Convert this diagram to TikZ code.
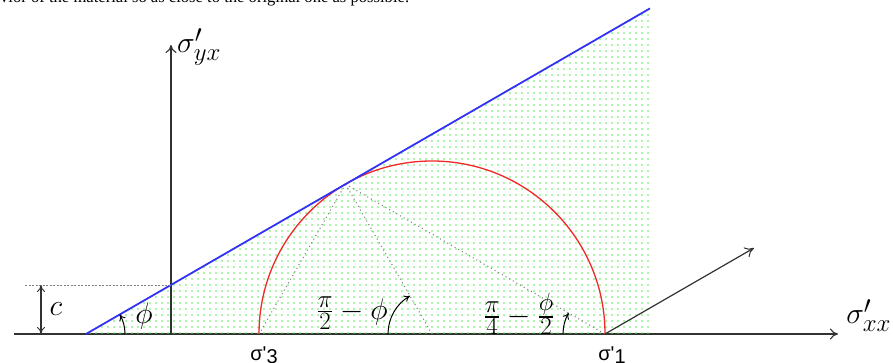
\documentclass[tikz,border=0pt]{standalone}
\usepackage{amsmath}
\usepackage{fontspec}
\newfontfamily\serifTNR{Liberation Serif}
\newfontfamily\sansArial{Liberation Sans}
\usetikzlibrary{arrows.meta,patterns.meta,calc}
\definecolor{axisgray}{RGB}{50,50,50}
\definecolor{dotgreen}{RGB}{90,235,90}
\definecolor{failblue}{RGB}{50,50,245}
\definecolor{mohrred}{RGB}{240,40,40}
\begin{document}
\begin{tikzpicture}[x=1pt,y=1pt,
  axisline/.style={line width=1.6pt, draw=axisgray, -{To[length=8pt,width=11pt,line width=1.1pt]}},
  guide/.style={draw=gray, line width=1.1pt, dash pattern=on 1pt off 3.2pt},
  cline/.style={draw=gray, line width=0.6pt, dash pattern=on 2pt off 1.5pt},
  anglearrow/.style={draw=black, line width=1pt, -{To[length=6pt,width=7pt,line width=0.9pt]}},
  mathlabel/.style={inner sep=0pt, font=\Huge, scale=1.2, transform shape},
  sigmalabel/.style={inner sep=0pt, font=\sansArial\fontsize{20}{24}\selectfont, anchor=base},
  shade/.style={pattern={Dots[distance=6pt,radius=0.9pt]}, pattern color=dotgreen}
]
\useasboundingbox (0,0) rectangle (893,363);

% key points
\coordinate (A) at (86,29);
\coordinate (O) at (171,29);
\coordinate (S3) at (259,29);
\coordinate (C) at (432,29);
\coordinate (S1) at (605,29);
\coordinate (T) at ($(C)+(120:173)$);
\coordinate (Ctop) at (171,78.07);
\coordinate (Btop) at (650,354.6);
\coordinate (Bbot) at (650,29);
\coordinate (Xstart) at (14,29);
\coordinate (Xend) at (838,29);
\coordinate (Yend) at (171,318);
\coordinate (Dstart) at (25,78.07);
\coordinate (CarrowTop) at (41,78.07);
\coordinate (CarrowBot) at (41,29);
\coordinate (Dir) at ($(S1)+(30:172)$);

% top text (cut off by the page edge)
\node[anchor=base west, inner sep=0pt, font=\serifTNR\fontsize{16.6}{20}\selectfont] (toptext) at (0,360.5)
  {vior of the material so as close to the original one as possible.};

% axes
\draw[axisline] (Xstart) -- (Xend);
\draw[axisline, line width=1.3pt] (O) -- (Yend);

% shaded region
\fill[shade] (A) -- (Btop) -- (Bbot) -- cycle;

% guide lines from tangent point
\draw[guide] (T) -- (S3);
\draw[guide] (T) -- (C);
\draw[guide] (T) -- (S1);

% Mohr circle
\draw[mohrred, line width=1.3pt] (S1) arc[start angle=0, end angle=180, radius=173];

% failure envelope
\draw[failblue, line width=1.8pt] (A) -- (Btop);

% cohesion
\draw[cline] (Dstart) -- (Ctop);
\draw[line width=1.1pt, draw=axisgray, {To[length=7pt,width=8pt,line width=0.9pt]}-{To[length=7pt,width=8pt,line width=0.9pt]}] (CarrowTop) -- (CarrowBot);

% direction arrow
\draw[line width=1.2pt, draw=axisgray, -{To[length=9pt,width=11pt,line width=1pt]}] (S1) -- (Dir);

% angle arcs
\draw[anglearrow] ($(A)+(39,0)$) arc[start angle=0, end angle=30, radius=39];
\draw[anglearrow] ($(C)+(-44,0)$) arc[start angle=180, end angle=120, radius=44];
\draw[anglearrow] ($(S1)+(-42,0)$) arc[start angle=180, end angle=150, radius=42];

% labels
\node[mathlabel, anchor=base west] (lyx) at (177,310) {$\sigma'_{yx}$};
\node[mathlabel, anchor=base west] (lxx) at (846,39) {$\sigma'_{xx}$};
\node[mathlabel] (lc) at (56,54) {$c$};
\node[mathlabel] (lphi) at (144,47) {$\phi$};
\node[mathlabel] (lpi2) at (352,50) {$\frac{\pi}{2}-\phi$};
\node[mathlabel] (lpi4) at (519,49) {$\frac{\pi}{4}-\frac{\phi}{2}$};
\node[sigmalabel] (ls3) at (264,2) {σ'\raisebox{-3pt}{3}};
\node[sigmalabel] (ls1) at (612,2) {σ'\raisebox{-3pt}{1}};
\end{tikzpicture}
\end{document}
